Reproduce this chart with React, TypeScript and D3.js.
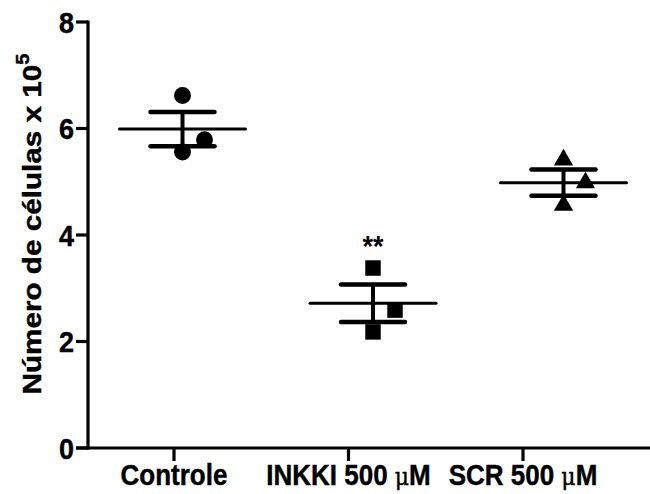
import React from "react";
import * as d3 from "d3";

const categories = ["Controle", "INKKI 500 μM", "SCR 500 μM"];
const controleValues = [6.62, 5.79, 5.56];
const inkkiValues = [3.38, 2.59, 2.18];
const scrValues = [5.41, 4.98, 4.56];
const yTicks = [0, 2, 4, 6, 8];
const significance = ["", "**", ""];
const markers = ["circle", "square", "triangle"];

const W = 650;
const H = 494;
const FONT = "'Liberation Sans', Arial, Helvetica, sans-serif";
const SY = 1.12;
const jitter = [0, 22, 0];

export default function App() {
  const series = [controleValues, inkkiValues, scrValues];
  const y = d3.scaleLinear().domain([0, 8]).range([448, 22]);
  const xTick = d3.scalePoint<string>().domain(categories).range([174, 523]);
  const xData = d3.scalePoint<string>().domain(categories).range([182.5, 563.5]);
  const axisX = 88;
  const axisY = y(0);

  const sym = (m: string) =>
    d3.symbol().type(m === "circle" ? d3.symbolCircle : m === "square" ? d3.symbolSquare : d3.symbolTriangle)
      .size(m === "circle" ? 225 : m === "square" ? 240 : 160)();

  return (
    <svg width={W} height={H} style={{ position: "absolute", left: 0, top: 0, background: "#fff" }}>
      <rect x={0} y={0} width={W} height={H} fill="#fff" />
      {/* axes */}
      <line x1={axisX} x2={axisX} y1={y(8) - 1.5} y2={axisY + 1.5} stroke="#000" strokeWidth={3.2} />
      <line x1={axisX - 12} x2={W} y1={axisY} y2={axisY} stroke="#000" strokeWidth={3.2} />
      {yTicks.map((t) => (
        <g key={t}>
          <line x1={axisX - 12} x2={axisX} y1={y(t)} y2={y(t)} stroke="#000" strokeWidth={3.2} />
          <text
            transform={`translate(${axisX - 14},${y(t)}) scale(1,${SY})`}
            textAnchor="end"
            dy="0.36em"
            fontFamily={FONT}
            fontWeight="bold"
            fontSize={27}
            stroke="#000"
            strokeWidth={0.4}
          >
            {t}
          </text>
        </g>
      ))}
      {categories.map((c) => {
        const parts = c.split("μ");
        return (
          <g key={c}>
            <line x1={xTick(c)} x2={xTick(c)} y1={axisY} y2={axisY + 13} stroke="#000" strokeWidth={3.2} />
            <text
              transform={`translate(${xTick(c)},485) scale(1,${SY})`}
              textAnchor="middle"
              fontFamily={FONT}
              fontWeight="bold"
              fontSize={26}
              stroke="#000"
              strokeWidth={0.4}
            >
              {parts[0]}
              {parts.length > 1 && (
                <>
                  <tspan fontWeight="normal" fontFamily="'DejaVu Serif', serif" fontSize={22}>μ</tspan>
                  <tspan>{parts[1]}</tspan>
                </>
              )}
            </text>
          </g>
        );
      })}
      {/* y label */}
      <text
        transform={`translate(41,224) scale(1,1.12) rotate(-90)`}
        textAnchor="middle"
        fontFamily={FONT}
        fontWeight="bold"
        fontSize={26.5}
        stroke="#000"
        strokeWidth={0.4}
      >
        Número de células x 10
        <tspan fontSize={18} dy={-12}>5</tspan>
      </text>
      {/* data */}
      {categories.map((c, i) => {
        const vals = series[i];
        const cx = xData(c)!;
        const m = d3.mean(vals)!;
        const sem = d3.deviation(vals)! / Math.sqrt(vals.length);
        return (
          <g key={c}>
            {vals.map((v, j) => (
              <path key={j} d={sym(markers[i])!} transform={`translate(${cx + jitter[j]},${y(v)})`} fill="#000" />
            ))}
            <line x1={cx} x2={cx} y1={y(m + sem)} y2={y(m - sem)} stroke="#000" strokeWidth={4} />
            <line x1={cx - 32} x2={cx + 32} y1={y(m + sem)} y2={y(m + sem)} stroke="#000" strokeWidth={4.5} strokeLinecap="round" />
            <line x1={cx - 32} x2={cx + 32} y1={y(m - sem)} y2={y(m - sem)} stroke="#000" strokeWidth={4.5} strokeLinecap="round" />
            <line x1={cx - 63} x2={cx + 63} y1={y(m)} y2={y(m)} stroke="#000" strokeWidth={3} strokeLinecap="round" />
            {significance[i] && (
              <text
                transform={`translate(${cx},${y(m + sem) - 29}) scale(1,${SY})`}
                textAnchor="middle"
                fontFamily={FONT}
                fontWeight="bold"
                fontSize={27}
              >
                {significance[i]}
              </text>
            )}
          </g>
        );
      })}
    </svg>
  );
}
